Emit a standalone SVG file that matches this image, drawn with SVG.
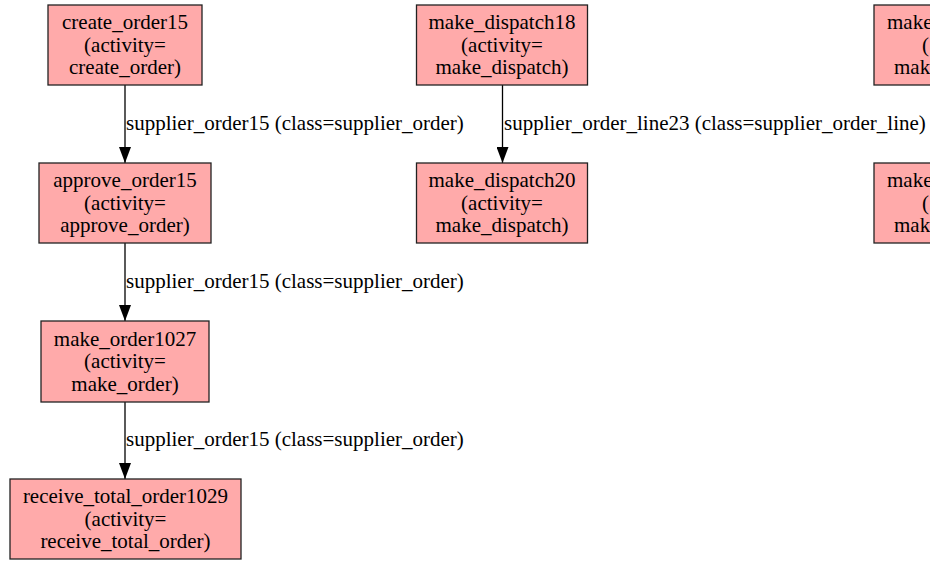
<svg xmlns="http://www.w3.org/2000/svg" width="930" height="561" viewBox="0 0 930 561">
<style>
.box{fill:#ffaaaa;stroke:#222;stroke-width:1.3}
text{font-family:"Liberation Serif","Times New Roman",serif;font-size:21px;fill:#000}
.c{text-anchor:middle}
.e{fill:none;stroke:#000;stroke-width:1.3}
</style>
<defs>
<marker id="ah" markerWidth="16" markerHeight="12" refX="16" refY="6" orient="auto" markerUnits="userSpaceOnUse">
<path d="M0,0 L16,6 L0,12 Z" fill="#000"/>
</marker>
</defs>
<rect width="930" height="561" fill="#fff"/>
<g id="edges">
<line class="e" x1="125" y1="85" x2="125" y2="163" marker-end="url(#ah)"/>
<text x="126" y="129.5">supplier_order15 (class=supplier_order)</text>
<line class="e" x1="125" y1="243" x2="125" y2="321" marker-end="url(#ah)"/>
<text x="126" y="287.5">supplier_order15 (class=supplier_order)</text>
<line class="e" x1="125" y1="402" x2="125" y2="479" marker-end="url(#ah)"/>
<text x="126" y="445.5">supplier_order15 (class=supplier_order)</text>
<line class="e" x1="502.5" y1="85" x2="502.5" y2="163" marker-end="url(#ah)"/>
<text x="504" y="129.5">supplier_order_line23 (class=supplier_order_line)</text>
</g>
<g id="create_order15">
<rect class="box" x="48" y="5" width="154" height="80"/>
<text class="c" x="125" y="29">create_order15</text>
<text class="c" x="125" y="51.5">(activity=</text>
<text class="c" x="125" y="74">create_order)</text>
</g>
<g id="approve_order15">
<rect class="box" x="39" y="163" width="172" height="80"/>
<text class="c" x="125" y="187">approve_order15</text>
<text class="c" x="125" y="209.5">(activity=</text>
<text class="c" x="125" y="232">approve_order)</text>
</g>
<g id="make_order1027">
<rect class="box" x="41" y="321" width="168" height="81"/>
<text class="c" x="125" y="345.5">make_order1027</text>
<text class="c" x="125" y="368">(activity=</text>
<text class="c" x="125" y="390.5">make_order)</text>
</g>
<g id="receive_total_order1029">
<rect class="box" x="10" y="479" width="231" height="80"/>
<text class="c" x="125.5" y="503">receive_total_order1029</text>
<text class="c" x="125.5" y="525.5">(activity=</text>
<text class="c" x="125.5" y="548">receive_total_order)</text>
</g>
<g id="make_dispatch18">
<rect class="box" x="416.5" y="5" width="171" height="80"/>
<text class="c" x="502" y="29">make_dispatch18</text>
<text class="c" x="502" y="51.5">(activity=</text>
<text class="c" x="502" y="74">make_dispatch)</text>
</g>
<g id="make_dispatch20">
<rect class="box" x="416.5" y="163" width="171" height="80"/>
<text class="c" x="502" y="187">make_dispatch20</text>
<text class="c" x="502" y="209.5">(activity=</text>
<text class="c" x="502" y="232">make_dispatch)</text>
</g>
<g id="right_top">
<rect class="box" x="874" y="5" width="80" height="80"/>
<text x="887" y="29">make</text>
<text x="922" y="51.5">(</text>
<text x="894" y="74">mak</text>
</g>
<g id="right_bottom">
<rect class="box" x="874" y="163" width="80" height="80"/>
<text x="887" y="187">make</text>
<text x="922" y="209.5">(</text>
<text x="894" y="232">mak</text>
</g>
</svg>
